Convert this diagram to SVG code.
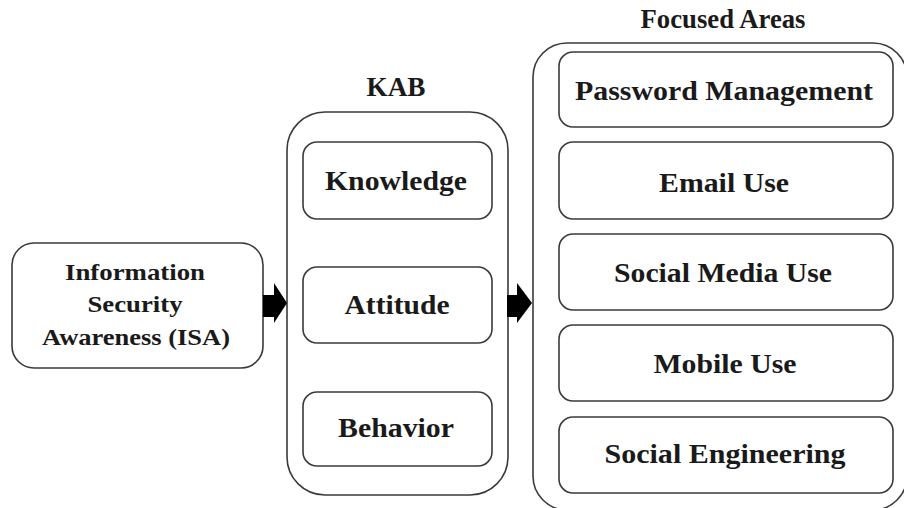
<svg xmlns="http://www.w3.org/2000/svg" width="904" height="508" viewBox="0 0 904 508">
<style>
.box{fill:#fff;stroke:#3a3a3a;stroke-width:1.6}
.outer{fill:none;stroke:#3a3a3a;stroke-width:1.6}
.t{font-family:'Liberation Serif','Times New Roman',Tinos,serif;font-weight:700;font-size:27px;fill:#1a1a1a;text-anchor:middle}
.s{font-size:24px}
.arrow{fill:#000}
</style>
<rect width="904" height="508" fill="#fff"/>
<g id="isa">
<rect class="box" x="12" y="243" width="251" height="125" rx="22"/>
<text class="t s" x="135" y="280" textLength="140" lengthAdjust="spacingAndGlyphs">Information</text>
<text class="t s" x="135" y="312" textLength="95" lengthAdjust="spacingAndGlyphs">Security</text>
<text class="t s" x="136" y="345" textLength="188" lengthAdjust="spacingAndGlyphs">Awareness (ISA)</text>
</g>
<g id="kab">
<text class="t" x="396" y="96" textLength="59" lengthAdjust="spacingAndGlyphs">KAB</text>
<rect class="outer" x="287" y="112" width="221" height="383" rx="38"/>
</g>
<g id="knowledge">
<rect class="box" x="303" y="142" width="189" height="77" rx="14"/>
<text class="t" x="396" y="190" textLength="142" lengthAdjust="spacingAndGlyphs">Knowledge</text>
</g>
<g id="attitude">
<rect class="box" x="303" y="267" width="189" height="76" rx="14"/>
<text class="t" x="397" y="314" textLength="105" lengthAdjust="spacingAndGlyphs">Attitude</text>
</g>
<g id="behavior">
<rect class="box" x="303" y="392" width="189" height="74" rx="14"/>
<text class="t" x="396" y="437" textLength="116" lengthAdjust="spacingAndGlyphs">Behavior</text>
</g>
<g id="focused">
<text class="t" x="723" y="28" textLength="165" lengthAdjust="spacingAndGlyphs">Focused Areas</text>
<rect class="outer" x="533" y="43" width="374" height="467" rx="34"/>
</g>
<g id="password">
<rect class="box" x="559" y="52" width="334" height="75" rx="14"/>
<text class="t" x="724" y="100" textLength="298" lengthAdjust="spacingAndGlyphs">Password Management</text>
</g>
<g id="email">
<rect class="box" x="559" y="142" width="334" height="77" rx="14"/>
<text class="t" x="724" y="192" textLength="130" lengthAdjust="spacingAndGlyphs">Email Use</text>
</g>
<g id="social-media">
<rect class="box" x="559" y="234" width="334" height="76" rx="14"/>
<text class="t" x="723" y="282" textLength="218" lengthAdjust="spacingAndGlyphs">Social Media Use</text>
</g>
<g id="mobile">
<rect class="box" x="559" y="325" width="334" height="76" rx="14"/>
<text class="t" x="725" y="373" textLength="143" lengthAdjust="spacingAndGlyphs">Mobile Use</text>
</g>
<g id="social-engineering">
<rect class="box" x="559" y="417" width="334" height="76" rx="14"/>
<text class="t" x="725" y="463" textLength="241" lengthAdjust="spacingAndGlyphs">Social Engineering</text>
</g>
<g id="connectors">
<polygon class="arrow" points="263,295 274,295 274,283 287,303 274,323 274,317 263,317"/>
<polygon class="arrow" points="507,295 517,295 517,283 532,303 517,323 517,317 507,317"/>
</g>
</svg>
